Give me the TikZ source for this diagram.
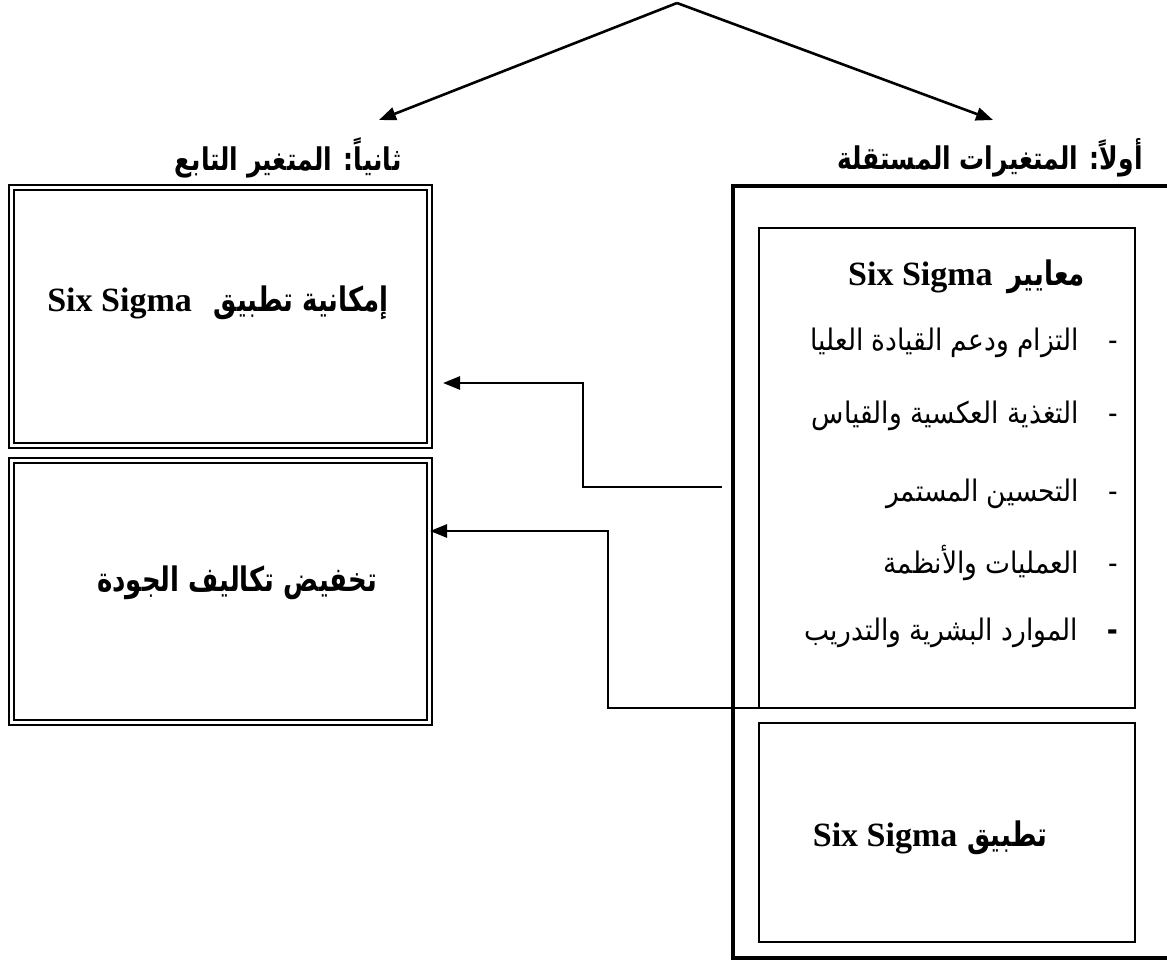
\documentclass[tikz,border=0pt]{standalone}
\usepackage{fontspec}
\setmainfont{Liberation Serif}
\newfontfamily\arabicfont[Script=Arabic]{DejaVu Sans}
\TeXXeTstate=1
\usetikzlibrary{arrows.meta}
\newcommand\arb[1]{\scalebox{1}[1.3]{\arabicfont\bfseries\fontsize{26}{30}\selectfont\beginR #1\endR}}
\newcommand\arhead[1]{\scalebox{1}[1.25]{\arabicfont\bfseries\fontsize{25}{30}\selectfont\beginR #1\endR}}
\newcommand\aritem[1]{\scalebox{1}[1.12]{\arabicfont\fontsize{26.5}{30}\selectfont\beginR #1\endR}}
\tikzset{
  conn/.style={line width=2.6pt, -{Triangle[length=17pt,width=13pt]}},
  dbox/.style={draw, double, double distance=3pt, line width=2pt, minimum width=418pt, inner sep=0pt},
  ibox/.style={draw, line width=2pt, minimum width=376pt, inner sep=0pt},
  bold/.style={font=\fontsize{34}{40}\selectfont\bfseries, inner sep=0pt},
  item/.style={anchor=east, inner sep=0pt},
}
\begin{document}
\begin{tikzpicture}[x=1pt,y=-1pt]
\useasboundingbox (0,0) rectangle (1167,970);
% headings
\node[inner sep=0pt] (h1) at (990,158) {\arhead{أولاً: المتغيرات المستقلة}};
\node[inner sep=0pt] (h2) at (288,158) {\arhead{ثانياً: المتغير التابع}};
% top arrows
\coordinate (apex) at (677,3);
\coordinate (tl) at (379,120);
\coordinate (tr) at (993,120);
\draw[conn] (apex) -- (tl);
\draw[conn] (apex) -- (tr);
% left boxes
\node[dbox, minimum height=258pt] (L1) at (220,316) {};
\node[dbox, minimum height=262pt] (L2) at (220,591) {};
\node[bold] (t1) at (218,303) {Six Sigma\hspace{22pt}\arb{إمكانية تطبيق}};
\node[bold] (t2) at (237,583) {\arb{تخفيض تكاليف الجودة}};
% right outer box
\draw[line width=3.5pt] (1170,186) -- (733,186) -- (733,958) -- (1170,958);
% inner boxes
\node[ibox, minimum height=480pt] (R1) at (947,468) {};
\node[ibox, minimum height=219pt] (R2) at (947,832.5) {};
\node[bold, anchor=east] (rt) at (1085,277) {Six Sigma\hspace{15pt}\arb{معايير}};
\node[item] (i1) at (1118,343) {\aritem{-\hspace{29pt}التزام ودعم القيادة العليا}};
\node[item] (i2) at (1118,416) {\aritem{-\hspace{29pt}التغذية العكسية والقياس}};
\node[item] (i3) at (1118,494) {\aritem{-\hspace{29pt}التحسين المستمر}};
\node[item] (i4) at (1118,563) {\aritem{-\hspace{29pt}العمليات والأنظمة}};
\node[item] (i5) at (1118,633) {\aritem{{\bfseries -}\hspace{29pt}الموارد البشرية والتدريب}};
\node[bold] (t3) at (930,838) {Six Sigma\hspace{10pt}\arb{تطبيق}};
% connectors
\coordinate (a1s) at (722,487);
\coordinate (a1e) at (443,383);
\draw[conn] (a1s) -- (583,487) -- (583,383) -- (a1e);
\coordinate (a2s) at (787,708);
\draw[conn] (a2s) -- (608,708) -- (608,531) -- (L2.east |- 0,531);
\end{tikzpicture}
\end{document}
